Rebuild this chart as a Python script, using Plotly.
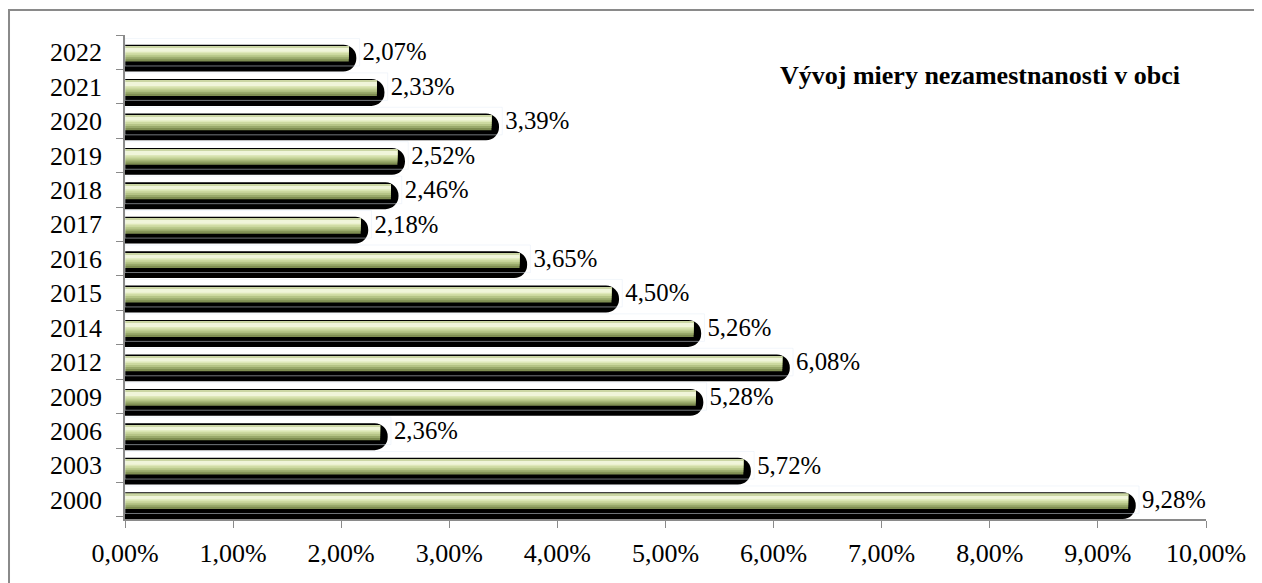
import plotly.graph_objects as go

years = ['2000', '2003', '2006', '2009', '2012', '2014', '2015',
         '2016', '2017', '2018', '2019', '2020', '2021', '2022']
rates = [9.28, 5.72, 2.36, 5.28, 6.08, 5.26, 4.50,
         3.65, 2.18, 2.46, 2.52, 3.39, 2.33, 2.07]
x_ticks = [0, 1, 2, 3, 4, 5, 6, 7, 8, 9, 10]
x_tick_text = ['0,00%', '1,00%', '2,00%', '3,00%', '4,00%', '5,00%',
               '6,00%', '7,00%', '8,00%', '9,00%', '10,00%']
title_text = 'Vývoj miery nezamestnanosti v obci'

labels = [f'{v:.2f}'.replace('.', ',') + '%' for v in rates]
serif = 'Liberation Serif, Times New Roman, serif'

# shadow sticks out a little to the right of the real value
shadow_ext = 0.07
fig = go.Figure()

# black drop shadow with rounded end
fig.add_trace(go.Bar(y=years, x=[v + shadow_ext for v in rates], orientation='h',
                     offset=-0.56, width=0.78, marker=dict(color='black', cornerradius=13,
                     line=dict(width=0)), hoverinfo='skip', showlegend=False))

# cylinder body: stacked overlays, fake gradient (top frac, bottom frac, colour)
cream_top, cream_h = 0.17, 0.44
layers = [(0.0, 1.0, '#7f8e52'),
          (0.0, 0.85, '#99a96b'),
          (0.0, 0.72, '#b5c486'),
          (0.0, 0.58, '#ccd9a0'),
          (0.0, 0.45, '#dee8b9'),
          (0.08, 0.35, '#f0f5da'),
          (0.0, 0.08, '#cbd6a4')]
for top, bot, col in layers:
    fig.add_trace(go.Bar(y=years, x=rates, orientation='h',
                         offset=cream_top - bot * cream_h, width=(bot - top) * cream_h,
                         marker=dict(color=col, line=dict(width=0)),
                         hoverinfo='skip', showlegend=False))

# value labels (invisible bars carry the outside text)
fig.add_trace(go.Bar(y=years, x=[v + shadow_ext + 0.03 for v in rates], orientation='h',
                     marker=dict(color='rgba(0,0,0,0)'), text=labels, textposition='outside',
                     textfont=dict(family=serif, size=27, color='black'),
                     cliponaxis=False, showlegend=False,
                     hovertemplate='%{y}: %{text}<extra></extra>'))

# page body has an 8px margin, so the figure is a bit smaller than the window
fig.update_layout(
    barmode='overlay', width=1254, height=575,
    margin=dict(l=117, r=56, t=27, b=64, autoexpand=False),
    plot_bgcolor='white', paper_bgcolor='white',
    font=dict(family=serif, size=26, color='black'),
    annotations=[dict(text=f'<b>{title_text}</b>', xref='paper', yref='paper',
                      x=0.604, y=0.917, xanchor='left', yanchor='middle', showarrow=False,
                      font=dict(family=serif, size=26, color='black'))],
    shapes=[dict(type='rect', xref='paper', yref='paper', x0=-0.1073, x1=1.08,
                 y0=-0.2, y1=1.0517, line=dict(color='#8a8a8a', width=2), layer='below')],
)
fig.update_xaxes(range=[0, 10], tickvals=x_ticks, ticktext=x_tick_text, showgrid=False,
                 zeroline=False, showline=True, linecolor='#8a8a8a', linewidth=1.5,
                 ticks='outside', ticklen=7, tickcolor='#8a8a8a', ticklabelstandoff=3,
                 fixedrange=True)
fig.update_yaxes(type='category', categoryorder='array', categoryarray=years,
                 showgrid=False, zeroline=False, showline=True, linecolor='#8a8a8a',
                 linewidth=1.5, ticks='outside', ticklen=7, tickcolor='#8a8a8a',
                 tickson='boundaries', ticklabelstandoff=16, fixedrange=True)

fig.write_html('out.html')
